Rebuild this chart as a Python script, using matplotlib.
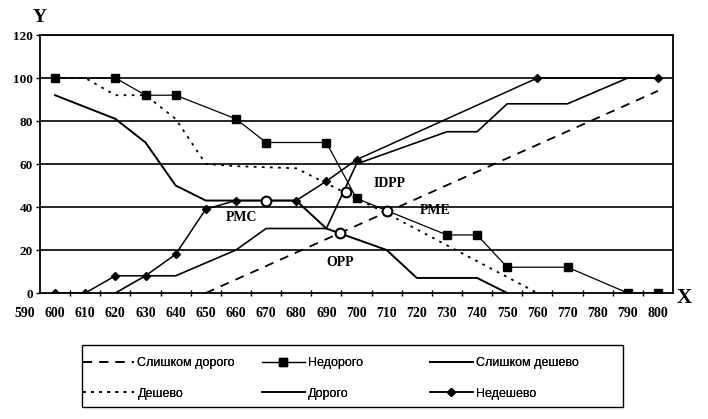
import matplotlib.pyplot as plt
from matplotlib.patches import Rectangle

# данные
x_sl_dorogo = [650, 800]
y_sl_dorogo = [0, 94]

x_nedorogo = [600, 620, 630, 640, 660, 670, 690, 700, 730, 740, 750, 770, 790, 800]
y_nedorogo = [100, 100, 92, 92, 81, 70, 70, 44, 27, 27, 12, 12, 0, 0]

x_sl_deshevo = [600, 620, 630, 640, 650, 680, 690, 710, 720, 740, 750]
y_sl_deshevo = [92, 81, 70, 50, 43, 43, 30, 20, 7, 7, 0]

x_deshevo = [600, 610, 620, 630, 640, 650, 660, 680, 710, 760]
y_deshevo = [100, 100, 92, 92, 81, 60, 59, 58, 37, 0]

x_dorogo = [620, 630, 640, 660, 670, 690, 700, 730, 740, 750, 770, 790, 800]
y_dorogo = [0, 8, 8, 20, 30, 30, 60, 75, 75, 88, 88, 100, 100]

x_nedeshevo = [600, 610, 620, 630, 640, 650, 660, 670, 680, 690, 700, 760, 800]
y_nedeshevo = [0, 0, 8, 8, 18, 39, 43, 43, 43, 52, 62, 100, 100]

# точки пересечения
pt_names = ["PMC", "OPP", "IDPP", "PME"]
pt_x = [670, 694.5, 696.5, 710]
pt_y = [43, 28, 47, 38]
lbl_x = [662, 694.5, 711, 726]
lbl_y = [35, 14, 51, 38.6]

x_labels = list(range(590, 801, 10))
y_ticks = [0, 20, 40, 60, 80, 100, 120]

serif = "Liberation Serif"

fig = plt.figure(figsize=(7.08, 4.19), dpi=100)
ax = fig.add_axes([40 / 708, 1 - 293 / 419, 633 / 708, 258 / 419])

for v in y_ticks[1:]:
    ax.axhline(v, color="black", lw=1.2, zorder=1)

l1, = ax.plot(x_sl_dorogo, y_sl_dorogo, color="black", lw=1.3, ls=(0, (5, 4)),
              label="Слишком дорого", zorder=3)
l2, = ax.plot(x_nedorogo, y_nedorogo, color="black", lw=0.9, marker="s", ms=6,
              label="Недорого", zorder=3)
l3, = ax.plot(x_sl_deshevo, y_sl_deshevo, color="black", lw=1.4,
              label="Слишком дешево", zorder=3)
l4, = ax.plot(x_deshevo, y_deshevo, color="black", lw=1.3, ls=(0, (1.5, 3)),
              label="Дешево", zorder=3)
l5, = ax.plot(x_dorogo, y_dorogo, color="black", lw=1.2,
              label="Дорого", zorder=3)
l6, = ax.plot(x_nedeshevo, y_nedeshevo, color="black", lw=1.1, marker="D", ms=4.5,
              label="Недешево", zorder=3)

ax.plot(pt_x, pt_y, ls="none", marker="o", ms=7, mfc="white", mec="black",
        mew=1.5, zorder=5)

for name, tx, ty in zip(pt_names, lbl_x, lbl_y):
    ax.text(tx, ty, name, fontfamily=serif, fontweight="bold", fontsize=10,
            ha="center", va="center")

ax.set_xlim(595, 805)
ax.set_ylim(0, 120)

ax.set_xticks(range(605, 805, 10))
ax.set_xticklabels([])
ax.tick_params(axis="x", direction="inout", length=5, width=1)
ax.set_yticks(y_ticks)
ax.set_yticklabels([str(v) for v in y_ticks], fontfamily=serif,
                   fontweight="bold", fontsize=9.5)
ax.tick_params(axis="y", direction="out", length=3, width=1, pad=2)

for xl in x_labels:
    ax.text(xl, -9.5, str(xl), fontfamily=serif, fontweight="bold", fontsize=10,
            ha="center", va="center", clip_on=False)

for s in ax.spines.values():
    s.set_color("black")
    s.set_linewidth(1.3)

fig.text(40 / 708, 1 - 17 / 419, "Y", fontfamily=serif, fontweight="bold",
         fontsize=14, ha="center", va="center")
fig.text(684 / 708, 1 - 298 / 419, "X", fontfamily=serif, fontweight="bold",
         fontsize=15, ha="center", va="center")

# легенда: рамка и три колонки
fig.patches.append(Rectangle((82 / 708, 1 - 407 / 419), 541 / 708, 62 / 419,
                             transform=fig.transFigure, fill=False,
                             edgecolor="black", lw=1.0))

columns = [([l1, l4], 83, 4.1), ([l2, l5], 262, 3.4), ([l3, l6], 430, 3.4)]
for hs, px, hl in columns:
    leg = fig.legend(handles=hs, labels=[h.get_label() for h in hs],
                     loc="upper left", bbox_to_anchor=(px / 708, 1 - 357 / 419),
                     frameon=False, handlelength=hl, handletextpad=0.25,
                     labelspacing=1.5, borderaxespad=0, borderpad=0,
                     prop={"family": "Liberation Sans", "size": 9})
    fig.add_artist(leg)

fig.savefig("out.png", dpi=100)
